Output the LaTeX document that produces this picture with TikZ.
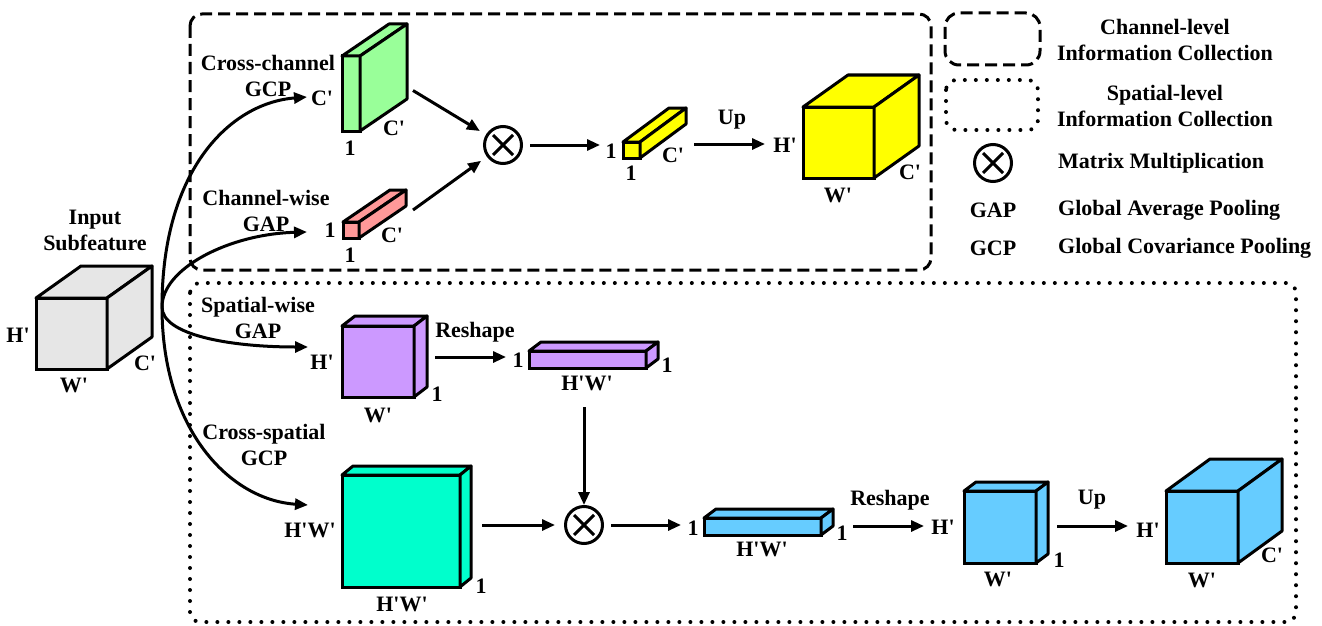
\documentclass[tikz,border=0pt]{standalone}
\usepackage{fontspec}
\setmainfont{Liberation Serif}
\usetikzlibrary{arrows.meta,calc}
\definecolor{cgray}{HTML}{E6E6E6}
\definecolor{cgreen}{HTML}{99FF99}
\definecolor{cpink}{HTML}{FF9999}
\definecolor{cyellow}{HTML}{FFFF00}
\definecolor{cpurple}{HTML}{CC99FF}
\definecolor{cteal}{HTML}{00FFCC}
\definecolor{cblue}{HTML}{66CCFF}
\newcommand\qt{\textquotesingle}
\newcommand\lblfont{\fontsize{22}{26}\selectfont\bfseries}
% name, x, y (front top-left), w, h, dx, dy, colour
\newcommand\drawcube[8]{%
  \node[facebox, fill=#8, minimum width=#4pt, minimum height=#5pt, anchor=north west] (#1) at (#2,#3) {};
  \draw[edge, fill=#8] (#1.north west) -- ++(#6,#7) -- ++(#4,0) -- (#1.north east) -- cycle;
  \draw[edge, fill=#8] (#1.north east) -- ++(#6,#7) -- ++(0,#5) -- (#1.south east) -- cycle;
}
\begin{document}
\begin{tikzpicture}[x=1pt,y=-1pt,
  edge/.style={draw=black,line width=3pt,line join=round},
  facebox/.style={draw=black,line width=3pt,inner sep=0pt,outer sep=0pt,rectangle},
  lab/.style={font=\lblfont,inner sep=1pt,align=center},
  arr/.style={line width=3pt,-{Triangle[length=13pt,width=11pt]}},
  mult/.style={circle,draw,line width=3pt,minimum size=37pt,inner sep=0pt,
    path picture={
      \draw[line width=3pt] ($(path picture bounding box.center)+(-10,-10)$) -- ($(path picture bounding box.center)+(10,10)$)
                              ($(path picture bounding box.center)+(-10,10)$) -- ($(path picture bounding box.center)+(10,-10)$);}},
  dashbox/.style={line width=3pt,dash pattern=on 12pt off 6pt,rounded corners=12pt},
  dotbox/.style={line width=4pt,line cap=round,dash pattern=on 0pt off 11pt,rounded corners=10pt},
]
\useasboundingbox (0,0) rectangle (1322,626);

% group frames
\draw[dashbox] (190,14) rectangle (931,270);
\draw[dotbox] (190,283) rectangle (1296,622);

% legend
\draw[dashbox,rounded corners=14pt] (945,13) rectangle (1040,65);
\draw[dotbox] (946,80) rectangle (1038,130);
\node[mult] (legm) at (993,163) {};
\node[lab] (legch) at (1165,40) {Channel-level\\Information Collection};
\node[lab] (legsp) at (1165,105.5) {Spatial-level\\Information Collection};
\node[lab,anchor=west] (legmm) at (1057,163) {Matrix Multiplication};
\node[lab] (leggap) at (993,210) {GAP};
\node[lab,anchor=west] (leggapt) at (1057,210) {Global Average Pooling};
\node[lab] (leggcp) at (993,248) {GCP};
\node[lab,anchor=west] (leggcpt) at (1057,248) {Global Covariance Pooling};

% input
\drawcube{inp}{36}{298}{71}{71}{45}{-32}{cgray}
\node[lab] (inpt) at (95,230) {Input\\Subfeature};
\node[lab] (inpH) at (18,335) {H\qt};
\node[lab] (inpW) at (74,385) {W\qt};
\node[lab] (inpC) at (145,363) {C\qt};

% channel branch
\drawcube{grn}{342}{56}{18}{75}{47}{-32}{cgreen}
\node[lab] (grnC1) at (322,98) {C\qt};
\node[lab] (grnC2) at (394,128) {C\qt};
\node[lab] (grn1) at (350,148) {1};
\node[lab] (grnt) at (268,75.5) {Cross-channel\\GCP};

\drawcube{pnk}{343}{222}{16}{16}{47}{-32}{cpink}
\node[lab] (pnk1a) at (330,230) {1};
\node[lab] (pnkC) at (392,235) {C\qt};
\node[lab] (pnk1b) at (350,255) {1};
\node[lab] (pnkt) at (266,211) {Channel-wise\\GAP};

\node[mult] (m1) at (503,145) {};

\drawcube{ys}{623}{142}{17}{16}{46}{-34}{cyellow}
\node[lab] (ys1a) at (611,151) {1};
\node[lab] (ys1b) at (631,173) {1};
\node[lab] (ysC) at (673,155) {C\qt};
\node[lab] (up1) at (732,120) {Up};

\drawcube{yb}{803}{107}{71}{71}{45}{-32}{cyellow}
\node[lab] (ybH) at (785,145) {H\qt};
\node[lab] (ybW) at (838,195) {W\qt};
\node[lab] (ybC) at (910,172) {C\qt};

% spatial branch
\node[lab] (put) at (258,317.5) {Spatial-wise\\GAP};
\node[lab] (tlt) at (264,445) {Cross-spatial\\GCP};

\drawcube{pu}{342}{326}{72}{71}{13}{-10}{cpurple}
\node[lab] (puH) at (322,362) {H\qt};
\node[lab] (puW) at (378,415) {W\qt};
\node[lab] (pu1) at (437,394) {1};
\node[lab] (rs1) at (475,332) {Reshape};

\drawcube{pb}{529}{351}{117}{17}{12}{-9}{cpurple}
\node[lab] (pb1a) at (518,360) {1};
\node[lab] (pb1b) at (667,365) {1};
\node[lab] (pbHW) at (587,383) {H\qt W\qt};

\node[mult] (m2) at (584,525) {};

\drawcube{tl}{342}{475}{118}{112}{11}{-9}{cteal}
\node[lab] (tlHW1) at (310,530) {H\qt W\qt};
\node[lab] (tlHW2) at (402,604) {H\qt W\qt};
\node[lab] (tl1) at (481,586) {1};

\drawcube{bb}{704}{518}{117}{17}{12}{-9}{cblue}
\node[lab] (bb1a) at (693,528) {1};
\node[lab] (bb1b) at (842,533) {1};
\node[lab] (bbHW) at (762,549) {H\qt W\qt};
\node[lab] (rs2) at (890,500) {Reshape};

\drawcube{bc}{964}{491}{72}{72}{12}{-9}{cblue}
\node[lab] (bcH) at (943,527) {H\qt};
\node[lab] (bc1) at (1059,560) {1};
\node[lab] (bcW) at (998,579) {W\qt};
\node[lab] (up2) at (1092,500) {Up};

\drawcube{bg}{1166}{491}{72}{72}{44}{-32}{cblue}
\node[lab] (bgH) at (1148,530) {H\qt};
\node[lab] (bgW) at (1202,580) {W\qt};
\node[lab] (bgC) at (1272,555) {C\qt};

% curved connectors from the input
\coordinate (src) at (162,307);
\coordinate (tG) at (307,97);
\coordinate (tP) at (307,232);
\coordinate (tS) at (308,347);
\coordinate (tC) at (308,505);
\draw[arr] (src) .. controls (162,170) and (230,103) .. (tG);
\draw[arr] (src) .. controls (162,268) and (230,234) .. (tP);
\draw[arr] (src) .. controls (162,335) and (230,347) .. (tS);
\draw[arr] (src) .. controls (162,430) and (230,500) .. (tC);

% straight connectors
\draw[arr,shorten >=7pt] ($(grn.east)+(53,-3)$) -- (m1);
\draw[arr,shorten >=7pt] ($(pnk.east)+(54,-20)$) -- (m1);
\draw[arr,shorten <=7pt] (m1) -- (600,145) coordinate (tY1);
\draw[arr] ($(ys.east)+(54,-6)$) -- (765,144) coordinate (tY2);
\draw[arr] ($(pu.east)+(21,-4.5)$) -- (506,357) coordinate (tR1);
\draw[arr] (584,407) -- (m2);
\draw[arr,shorten >=9pt] ($(tl.east)+(22,-6)$) -- (m2);
\draw[arr,shorten <=7pt] (m2) -- (681,525) coordinate (tB1);
\draw[arr] ($(bb.east)+(32,-0.5)$) -- (924,526) coordinate (tR2);
\draw[arr] ($(bc.east)+(21,-1)$) -- (1128,526) coordinate (tU2);
\end{tikzpicture}
\end{document}
